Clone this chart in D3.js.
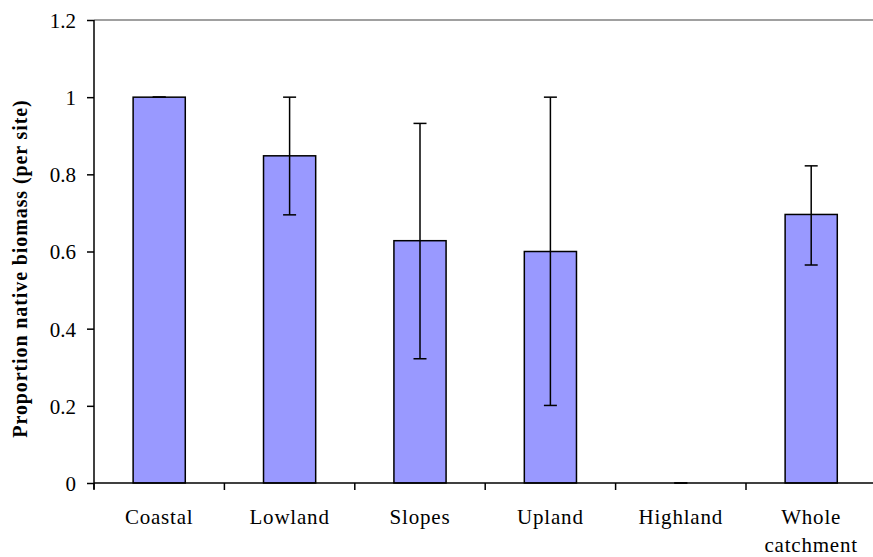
<!DOCTYPE html>
<html>
<head>
<meta charset="utf-8">
<script src="https://cdn.jsdelivr.net/npm/d3@7"></script>
<style>
  html, body { margin: 0; padding: 0; background: #fff; }
  svg { display: block; }
  text { font-family: "Liberation Serif", "Times New Roman", serif; fill: #000; }
</style>
</head>
<body>
<svg id="chart" width="873" height="557"></svg>
<script>
// Mean proportion of native biomass per site, by zone, with error bar limits
const categories = [["Coastal"], ["Lowland"], ["Slopes"], ["Upland"], ["Highland"], ["Whole", "catchment"]];
const means = [1.0, 0.848, 0.628, 0.600, 0.0, 0.696];
const errLow = [1.0, 0.695, 0.322, 0.201, 0.0, 0.565];
const errHigh = [1.0, 1.0, 0.932, 1.0, 0.0, 0.822];
const yTicks = [0, 0.2, 0.4, 0.6, 0.8, 1, 1.2];
const yTitle = "Proportion native biomass (per site)";

const svg = d3.select("#chart");
const plotLeft = 94, plotRight = 876.4, plotTop = 20, plotBottom = 483;

const x = d3.scaleBand().domain(d3.range(categories.length)).range([plotLeft, plotRight]).padding(0);
const y = d3.scaleLinear().domain([0, 1.2]).range([plotBottom, plotTop]);
const barW = x.bandwidth() * 0.4;
const capW = 13;

// top frame line
svg.append("line")
  .attr("x1", plotLeft).attr("x2", 873).attr("y1", y(1.2)).attr("y2", y(1.2))
  .attr("stroke", "#808080").attr("stroke-width", 1.5);

// bars
svg.append("g").selectAll("rect").data(means).join("rect")
  .attr("x", (d, i) => x(i) + (x.bandwidth() - barW) / 2)
  .attr("y", d => y(d))
  .attr("width", barW)
  .attr("height", d => y(0) - y(d))
  .attr("fill", "#9999ff")
  .attr("stroke", "#000")
  .attr("stroke-width", 1.5);

// error bars
const eb = svg.append("g").attr("stroke", "#000").attr("stroke-width", 1.5);
means.forEach((m, i) => {
  const cx = x(i) + x.bandwidth() / 2;
  eb.append("line").attr("x1", cx).attr("x2", cx).attr("y1", y(errLow[i])).attr("y2", y(errHigh[i]));
  [errLow[i], errHigh[i]].forEach(v => {
    eb.append("line").attr("x1", cx - capW / 2).attr("x2", cx + capW / 2).attr("y1", y(v)).attr("y2", y(v));
  });
});

// y axis
const yAxis = svg.append("g")
  .attr("transform", `translate(${plotLeft},0)`)
  .call(d3.axisLeft(y).tickValues(yTicks).tickFormat(d3.format("")).tickSize(7).tickPadding(11));
yAxis.attr("font-family", null);
yAxis.select(".domain").attr("stroke", "#000").attr("stroke-width", 1.5).attr("d", `M0,${plotTop}V${plotBottom + 6}`);
yAxis.selectAll(".tick line").attr("stroke", "#000").attr("stroke-width", 1.5);
yAxis.selectAll(".tick text")
  .attr("font-size", 21).attr("dy", "0.35em");

// x axis with ticks at category boundaries
const xAxis = svg.append("g").attr("transform", `translate(0,${plotBottom})`);
xAxis.append("line").attr("x1", plotLeft).attr("x2", 873).attr("stroke", "#000").attr("stroke-width", 1.5);
xAxis.selectAll(".xt").data(d3.range(categories.length)).join("line")
  .attr("class", "xt")
  .attr("x1", i => x(i)).attr("x2", i => x(i))
  .attr("y1", 0).attr("y2", 7)
  .attr("stroke", "#000").attr("stroke-width", 1.5);

// category labels
svg.append("g").selectAll("text").data(categories).join("text")
  .attr("x", (d, i) => x(i) + x.bandwidth() / 2)
  .attr("y", 524)
  .attr("text-anchor", "middle")
  .attr("font-size", 21)
  .attr("letter-spacing", 0.8)
  .each(function (lines) {
    const t = d3.select(this);
    lines.forEach((s, k) => {
      t.append("tspan").attr("x", t.attr("x")).attr("dy", k === 0 ? 0 : 28).text(s);
    });
  });

// y axis title
svg.append("text")
  .attr("transform", `translate(27,${(plotTop + plotBottom) / 2 + 17}) rotate(-90)`)
  .attr("text-anchor", "middle")
  .attr("font-size", 20)
  .attr("letter-spacing", 0.9)
  .attr("font-weight", "bold")
  .text(yTitle);
</script>
</body>
</html>
